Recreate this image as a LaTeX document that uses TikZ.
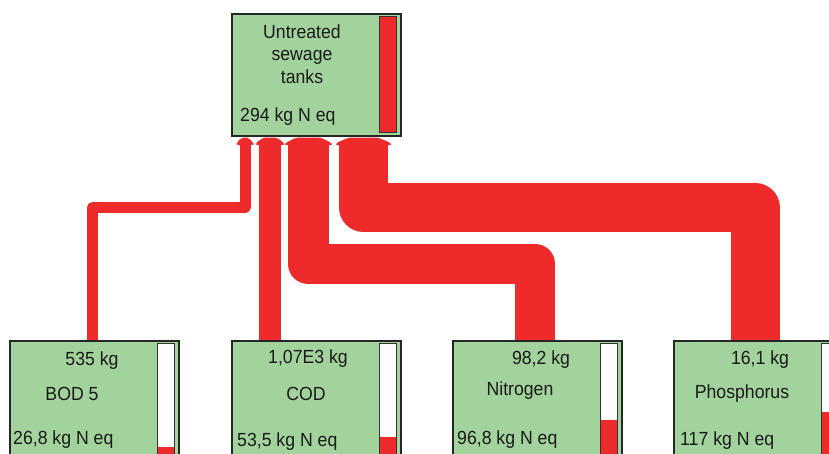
\documentclass[tikz,border=0pt]{standalone}
\usepackage{fontspec}
\setmainfont{Liberation Sans}[FakeStretch=0.93]
\usetikzlibrary{calc,backgrounds}
\definecolor{boxgreen}{RGB}{163,211,156}
\definecolor{flowred}{RGB}{238,42,42}
\newcommand\flowhead[2]{% #1 = target coordinate, #2 = half width of flow
  \fill[flowred, rounded corners=2pt] ($(#1)+(-#2-3,8.5)$) -- ($(#1)+(-#2-3,6.5)$) -- ($(#1)+(-0.6*#2,1)$) -- ($(#1)+(0.6*#2,1)$) -- ($(#1)+(#2+3,6.5)$) -- ($(#1)+(#2+3,8.5)$) -- cycle;}
\begin{document}
\begin{tikzpicture}[x=1pt,y=-1pt,
  box/.style={draw=black!85, line width=1.6pt, fill=boxgreen, minimum width=169pt, minimum height=122pt, inner sep=0pt, anchor=north west},
  bar/.style={draw=black!80, line width=1.2pt, fill=white, minimum width=17pt, minimum height=116pt, inner sep=0pt, anchor=north east,
    path picture={\fill[flowred] (path picture bounding box.south west) rectangle ([yshift=#1]path picture bounding box.south east);}},
  lbl/.style={font=\fontsize{19}{23}\selectfont, inner sep=0pt, text=black!90},
  flow/.style={draw=flowred, line join=round, line cap=butt, shorten >=8pt},
]
\useasboundingbox (0,0) rectangle (829,454);
\clip (0,0) rectangle (829,454);
% boxes
\node[box] (top) at (231,13) {};
\node[box] (bod) at (9,340) {};
\node[box] (cod) at (231,340) {};
\node[box] (nit) at (452,340) {};
\node[box] (pho) at (673,340) {};
% flow ports and levels
\coordinate (bodout) at ($(bod.north west)+(83.5,0)$);
\coordinate (codout) at ($(cod.north west)+(39,0)$);
\coordinate (nitout) at ($(nit.north west)+(83,0)$);
\coordinate (phoout) at ($(pho.north west)+(82,0)$);
\coordinate (bodin) at ($(top.south west)+(14,0)$);
\coordinate (codin) at ($(top.south west)+(39,0)$);
\coordinate (nitin) at ($(top.south west)+(77.5,0)$);
\coordinate (phoin) at ($(top.south west)+(132.5,0)$);
\coordinate (bodlev) at (0,207.5);
\coordinate (nitlev) at (0,264);
\coordinate (pholev) at (0,207.5);
% flows
\begin{scope}[on background layer]
\draw[flow, line width=11pt] (bodout) -- (bodout |- bodlev) -- (bodin |- bodlev) -- (bodin);
\draw[flow, line width=22.5pt] (codout) -- (codin);
\draw[flow, line width=40.7pt] (nitout) -- (nitout |- nitlev) -- (nitin |- nitlev) -- (nitin);
\draw[flow, line width=49pt] (phoout) -- (phoout |- pholev) -- (phoin |- pholev) -- (phoin);
\flowhead{bodin}{5.5}
\flowhead{codin}{11.25}
\flowhead{nitin}{20.35}
\flowhead{phoin}{24.5}
\end{scope}
% bars
\node[bar=116pt] (topbar) at ($(top.north west)+(166,3)$) {};
\node[bar=13pt] (bodbar) at ($(bod.north west)+(166,3)$) {};
\node[bar=23pt] (codbar) at ($(cod.north west)+(166,3)$) {};
\node[bar=40pt] (nitbar) at ($(nit.north west)+(166,3)$) {};
\node[bar=48pt] (phobar) at ($(pho.north west)+(166,3)$) {};
% texts
\node[lbl, anchor=base] (t1) at (302,39) {Untreated};
\node[lbl, anchor=base] (t2) at (302,61) {sewage};
\node[lbl, anchor=base] (t3) at (302,84) {tanks};
\node[lbl, anchor=base west] (tn) at (240,122) {294 kg N eq};
\node[lbl, anchor=base] (bodv) at (92,365) {535 kg};
\node[lbl, anchor=base] (bodn) at (72,400) {BOD 5};
\node[lbl, anchor=base west] (bode) at (13,444) {26,8 kg N eq};
\node[lbl, anchor=base] (codv) at (308,363) {1,07E3 kg};
\node[lbl, anchor=base] (codn) at (306,400) {COD};
\node[lbl, anchor=base west] (code) at (237,446) {53,5 kg N eq};
\node[lbl, anchor=base] (nitv) at (541,364) {98,2 kg};
\node[lbl, anchor=base] (nitn) at (520,395) {Nitrogen};
\node[lbl, anchor=base west] (nite) at (457,444) {96,8 kg N eq};
\node[lbl, anchor=base] (phov) at (760,364) {16,1 kg};
\node[lbl, anchor=base] (phon) at (742,398) {Phosphorus};
\node[lbl, anchor=base west] (phoe) at (680,445) {117 kg N eq};
\end{tikzpicture}
\end{document}
